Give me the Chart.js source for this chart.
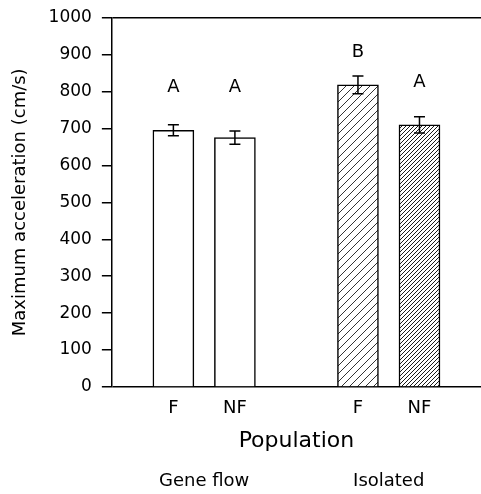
<!DOCTYPE html>
<html>
<head>
<meta charset="utf-8">
<script src="https://cdn.jsdelivr.net/npm/chart.js@4"></script>
<style>
    html, body { margin: 0; padding: 0; background: #fff; overflow: hidden; }
    canvas { display: block; }
</style>
</head>
<body>
<canvas id="chart" width="484" height="494"></canvas>
<script>
// slots: empty edge, Gene flow F/NF, gap, Isolated F/NF, empty edge
const labels = ['', 'F', 'NF', '', 'F', 'NF', ''];
const means = [null, 695, 675, null, 818, 710, null];
const errors = [null, 15, 18, null, 24, 22, null];
const letters = [null, 'A', 'A', null, 'B', 'A', null];
const letterLevels = [null, 810, 810, null, 905, 825, null];
const groups = [
    { name: 'Gene flow', slots: [1, 2] },
    { name: 'Isolated', slots: [4, 5] },
];
const yTicks = [0, 100, 200, 300, 400, 500, 600, 700, 800, 900, 1000];

const FONT = 'DejaVu Sans';

const makeHatch = (step, width) => {
    const c = document.createElement('canvas');
    c.width = step;
    c.height = step;
    const g = c.getContext('2d');
    g.fillStyle = '#fff';
    g.fillRect(0, 0, step, step);
    g.strokeStyle = '#000';
    g.lineWidth = width;
    g.beginPath();
    g.moveTo(0, step);
    g.lineTo(step, 0);
    g.moveTo(-step, step);
    g.lineTo(step, -step);
    g.moveTo(0, 2 * step);
    g.lineTo(2 * step, 0);
    g.stroke();
    return g.createPattern(c, 'repeat');
};

const fills = ['#fff', '#fff', '#fff', '#fff', makeHatch(8, 0.8), makeHatch(4, 0.9), '#fff'];

// error bars, significance letters and group names
const extras = {
    id: 'extras',
    afterDatasetsDraw(chart) {
        const { ctx, scales: { y }, chartArea } = chart;
        const meta = chart.getDatasetMeta(0);
        ctx.save();
        ctx.strokeStyle = '#000';
        ctx.lineWidth = 1.5;
        means.forEach((m, i) => {
            if (m == null) return;
            const x = meta.data[i].x;
            const top = y.getPixelForValue(m + errors[i]);
            const bot = y.getPixelForValue(m - errors[i]);
            ctx.beginPath();
            ctx.moveTo(x, top);
            ctx.lineTo(x, bot);
            ctx.moveTo(x - 5.5, top);
            ctx.lineTo(x + 5.5, top);
            ctx.moveTo(x - 5.5, bot);
            ctx.lineTo(x + 5.5, bot);
            ctx.stroke();
        });
        ctx.fillStyle = '#000';
        ctx.textAlign = 'center';
        ctx.textBaseline = 'middle';
        ctx.font = `18px "${FONT}"`;
        letters.forEach((t, i) => {
            if (!t) return;
            ctx.fillText(t, meta.data[i].x, y.getPixelForValue(letterLevels[i]));
        });
        groups.forEach(g => {
            const xs = g.slots.map(s => meta.data[s].x);
            const cx = xs.reduce((a, b) => a + b, 0) / xs.length;
            ctx.fillText(g.name, cx, chartArea.bottom + 94);
        });
        ctx.restore();
    }
};

new Chart(document.getElementById('chart'), {
    type: 'bar',
    data: {
        labels: labels,
        datasets: [{
            data: means,
            backgroundColor: fills,
            borderColor: '#000',
            borderWidth: 1.5,
            barThickness: 41,
        }]
    },
    options: {
        responsive: false,
        devicePixelRatio: 1,
        animation: false,
        layout: { padding: { top: 0, right: 0, bottom: 40, left: 10 } },
        plugins: {
            legend: { display: false },
            tooltip: { enabled: false },
        },
        scales: {
            x: {
                offset: false,
                grid: { display: false },
                border: { display: false },
                ticks: {
                    color: '#000',
                    font: { family: FONT, size: 18 },
                    padding: 3,
                    maxRotation: 0,
                    autoSkip: false,
                },
                title: {
                    display: true,
                    text: 'Population',
                    color: '#000',
                    font: { family: FONT, size: 22 },
                    padding: { top: 5, bottom: 0 },
                },
            },
            y: {
                min: 0,
                max: 1000,
                afterBuildTicks: axis => { axis.ticks = yTicks.map(v => ({ value: v })); },
                grid: {
                    color: c => (c.tick && (c.tick.value === 0 || c.tick.value === 1000)) ? '#000' : 'rgba(0,0,0,0)',
                    tickColor: '#000',
                    tickLength: 10,
                    lineWidth: 1.5,
                },
                border: { display: true, color: '#000', width: 1.5 },
                ticks: {
                    color: '#000',
                    font: { family: FONT, size: 17, lineHeight: 0.9 },
                    padding: 10,
                    callback: v => String(v),
                },
                title: {
                    display: true,
                    text: 'Maximum acceleration (cm/s)',
                    color: '#000',
                    font: { family: FONT, size: 18 },
                    padding: { top: 0, bottom: 7 },
                },
            },
        },
    },
    plugins: [extras],
});
</script>
</body>
</html>
